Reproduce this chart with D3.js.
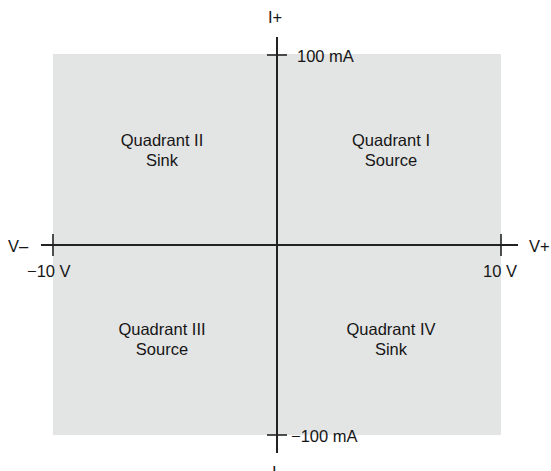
<!DOCTYPE html>
<html><head><meta charset="utf-8">
<script src="https://cdn.jsdelivr.net/npm/d3@7"></script>
<style>body{margin:0;background:#fff}text{font-family:"Liberation Sans",Arial,Helvetica,sans-serif;font-size:16.5px;fill:#161616}</style>
</head><body>
<svg id="c" width="551" height="471"></svg>
<script>
const voltageDomain = [-10, 10];
const currentDomain = [-100, 100];
const voltageTicks = [-10, 10];
const voltageTickLabels = ["\u221210 V", "10 V"];
const currentTicks = [100, -100];
const currentTickLabels = ["100 mA", "\u2212100 mA"];
const quadrantNames = ["Quadrant I", "Quadrant II", "Quadrant III", "Quadrant IV"];
const quadrantRoles = ["Source", "Sink", "Source", "Sink"];
const quadrantCenters = [[5, 50], [-5, 50], [-5, -50], [5, -50]];

const svg = d3.select("#c");
const x = d3.scaleLinear().domain(voltageDomain).range([53, 501]);
const y = d3.scaleLinear().domain(currentDomain).range([435, 55]);

svg.append("rect").attr("x", x(-10)).attr("y", y(100) - 1).attr("width", x(10) - x(-10)).attr("height", y(-100) - y(100) + 1).attr("fill", "#e3e4e4");

const axc = "#222";
svg.append("line").attr("x1", 41).attr("x2", 518).attr("y1", y(0)).attr("y2", y(0)).attr("stroke", axc).attr("stroke-width", 2);
svg.append("line").attr("x1", x(0)).attr("x2", x(0)).attr("y1", 37).attr("y2", 453).attr("stroke", axc).attr("stroke-width", 2);

voltageTicks.forEach((v, i) => {
  svg.append("line").attr("x1", x(v)).attr("x2", x(v)).attr("y1", y(0) - 11).attr("y2", y(0) + 11).attr("stroke", axc).attr("stroke-width", 1.6);
  svg.append("text").attr("x", i === 0 ? x(v) - 26 : x(v) - 18).attr("y", y(0) + 32).text(voltageTickLabels[i]);
});
currentTicks.forEach((c, i) => {
  svg.append("line").attr("x1", x(0) - 10).attr("x2", x(0) + 10).attr("y1", y(c)).attr("y2", y(c)).attr("stroke", axc).attr("stroke-width", 1.6);
  svg.append("text").attr("x", i === 0 ? x(0) + 20 : x(0) + 14).attr("y", y(c) + 7).text(currentTickLabels[i]);
});

svg.append("text").attr("x", 8).attr("y", y(0) + 7).text("V\u2013");
svg.append("text").attr("x", 529).attr("y", y(0) + 7).text("V+");
svg.append("text").attr("x", 268).attr("y", 23).text("I+");
svg.append("text").attr("x", 272).attr("y", 478).text("I\u2013");

quadrantNames.forEach((n, i) => {
  const [cx, cy] = quadrantCenters[i];
  const dx = cx < 0 ? -3 : 2;
  const base = cy > 0 ? y(cy) - 4 : y(cy) - 5;
  const g = svg.append("text").attr("text-anchor", "middle");
  g.append("tspan").attr("x", x(cx) + dx).attr("y", base).text(n);
  g.append("tspan").attr("x", x(cx) + dx).attr("y", base + 20).text(quadrantRoles[i]);
});
</script>
</body></html>
